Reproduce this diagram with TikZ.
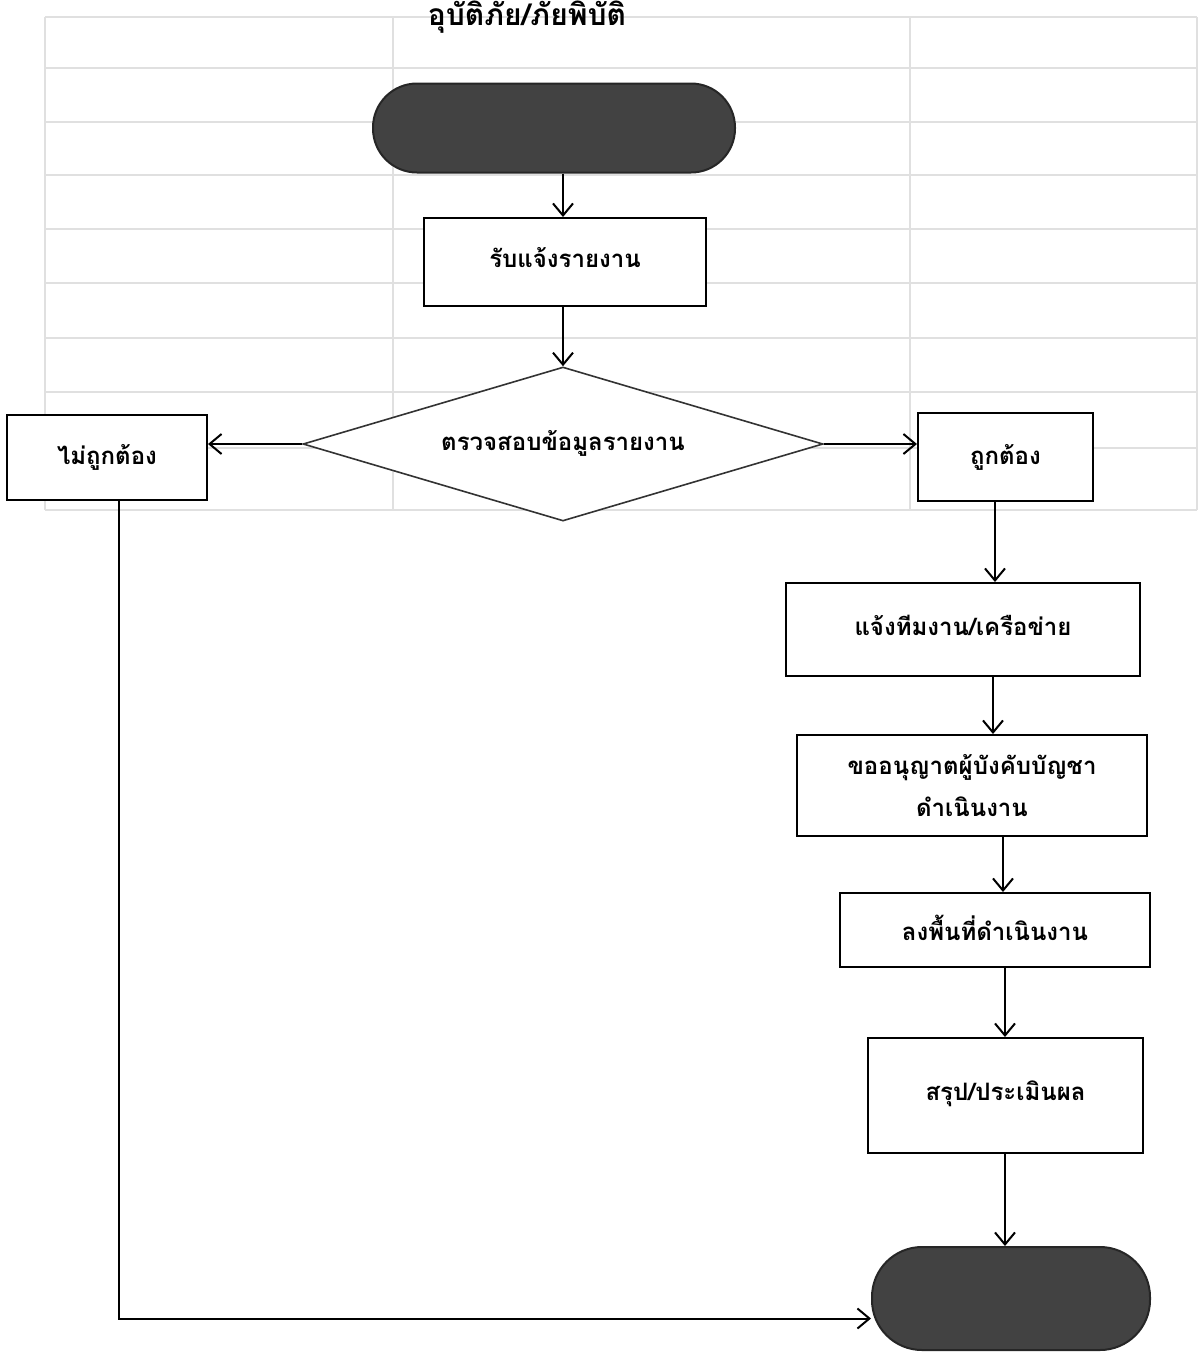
\documentclass[tikz,border=0pt]{standalone}
\usepackage{fontspec}
\newfontfamily\thaifont[Script=Thai]{Loma}
\usetikzlibrary{shapes.geometric,arrows.meta}
\tikzset{
  every node/.style={font=\thaifont\bfseries\fontsize{12}{15}\selectfont},
  procbox/.style={draw=black,line width=1pt,fill=white,inner sep=2pt,align=center},
  term/.style={draw=black!85,line width=1pt,fill=black!74,rounded corners=22pt},
  decide/.style={draw=black!80,line width=0.8pt,fill=white,diamond,aspect=3.4,inner sep=0pt,minimum width=260pt,minimum height=77pt},
  arr/.style={line width=1pt,-{Straight Barb[length=6pt,width=10pt,line width=1pt]}},
  ghost/.style={draw=black!12,line width=0.7pt}
}
\newcommand{\upby}[2]{\raisebox{#1}{#2}}
\begin{document}
\begin{tikzpicture}[x=0.5pt,y=-0.5pt]
\useasboundingbox (0,0) rectangle (1199,1357);
\fill[white] (0,0) rectangle (1199,1357);
% faint background table
\foreach \yy in {17,68,122,175,229,283,338,392,448,510}{\draw[ghost] (45,\yy) -- (1197,\yy);}
\foreach \xx in {45,393,910,1197}{\draw[ghost] (\xx,17) -- (\xx,510);}
% title
\node[font=\thaifont\bfseries\fontsize{15}{18}\selectfont] (title) at (527,17) {อุบัติภัย/ภัยพิบัติ};
% nodes
\node[term,minimum width=181pt,minimum height=44.5pt] (start) at (554,128) {};
\node[procbox,minimum width=141pt,minimum height=44pt] (rcv) at (565,262) {\upby{5pt}{รับแจ้งรายงาน}};
\node[decide] (chk) at (563,444) {\upby{4pt}{ตรวจสอบข้อมูลรายงาน}};
\node[procbox,minimum width=100pt,minimum height=42.5pt] (no) at (107,457.5) {\upby{3pt}{ไม่ถูกต้อง}};
\node[procbox,minimum width=87.5pt,minimum height=44pt] (yes) at (1005.5,457) {\upby{3pt}{ถูกต้อง}};
\node[procbox,minimum width=177pt,minimum height=46.5pt] (notify) at (963,629.5) {\upby{4pt}{แจ้งทีมงาน/เครือข่าย}};
\node[procbox,minimum width=175pt,minimum height=50.5pt] (permit) at (972,785.5) {ขออนุญาตผู้บังคับบัญชา\\[6pt]ดำเนินงาน};
\node[procbox,minimum width=155pt,minimum height=37pt] (field) at (995,930) {\upby{2pt}{ลงพื้นที่ดำเนินงาน}};
\node[procbox,minimum width=137.5pt,minimum height=57.5pt] (sum) at (1005.5,1095.5) {\upby{5pt}{สรุป/ประเมินผล}};
\node[term,rounded corners=25pt,minimum width=139pt,minimum height=51.5pt] (end) at (1011,1298.5) {};
% connectors
\draw[arr] (start.south -| 563,0) -- (rcv.north -| 563,0);
\draw[arr] (rcv.south -| 563,0) -- (chk.north);
\draw[arr] (chk.west) -- (chk.west -| no.east);
\draw[arr] (chk.east) -- (chk.east -| yes.west);
\draw[arr] (yes.south -| 995,0) -- (notify.north -| 995,0);
\draw[arr] (notify.south -| 993,0) -- (permit.north -| 993,0);
\draw[arr] (permit.south -| 1003,0) -- (field.north -| 1003,0);
\draw[arr] (field.south -| 1005,0) -- (sum.north -| 1005,0);
\draw[arr] (sum.south -| 1005,0) -- (end.north -| 1005,0);
\draw[arr] (no.south -| 119,0) |- ([yshift=-10pt]end.west);
\end{tikzpicture}
\end{document}
